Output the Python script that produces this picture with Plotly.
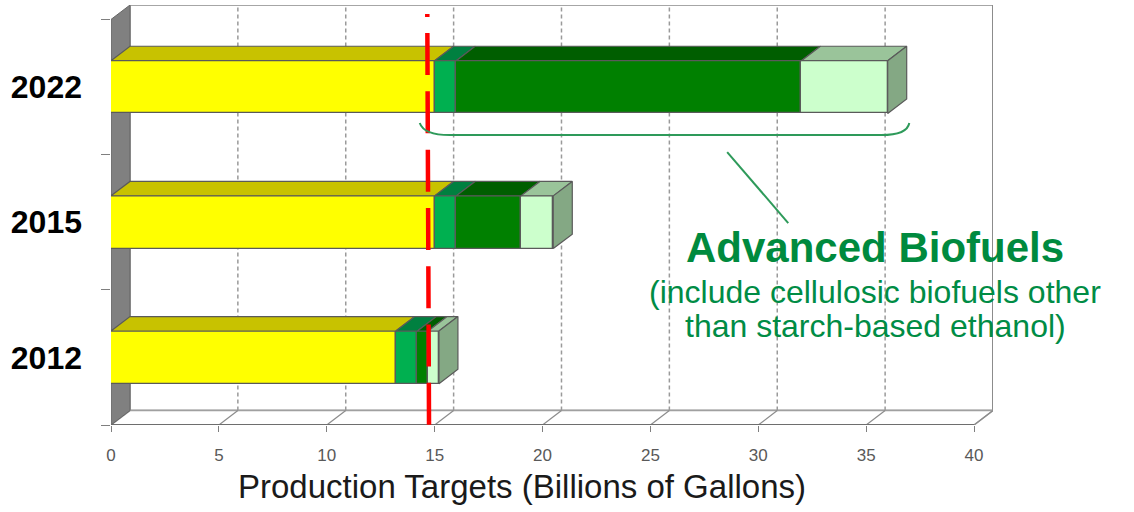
import plotly.graph_objects as go

# ---- data (billions of gallons) ----
years = ["2012", "2015", "2022"]
year_pos = [0.5, 1.5, 2.5]
conventional = [13.2, 15.0, 15.0]
biodiesel = [1.0, 1.0, 1.0]
cellulosic = [0.5, 3.0, 16.0]
other_advanced = [0.5, 1.5, 4.0]

x_ticks = [0, 5, 10, 15, 20, 25, 30, 35, 40]
limit_x = [14.66, 14.74]          # red dashed reference line (top, bottom)

segments = [
    # name, values, front colour, top colour, side colour
    ("Conventional ethanol", conventional, "#FFFF00", "#C8C200", "#A8A400"),
    ("Biomass-based diesel", biodiesel, "#00B050", "#008040", "#007030"),
    ("Cellulosic biofuels", cellulosic, "#008000", "#005E00", "#004C00"),
    ("Other advanced biofuels", other_advanced, "#CCFFCC", "#9AC49A", "#84A884"),
]

# ---- 3-D box geometry ----
X_MAX = 40
Y_MAX = 3
DEPTH_X = 0.88      # depth offset along x, in x units
DEPTH_Y = 0.107     # depth offset along y, in category units
BAR_W = 0.39
EDGE = "#5a5a5a"
GRID = "#9a9a9a"
FONT = "Liberation Sans, Arial, sans-serif"

fig = go.Figure()

# front faces of the stacked bars
bases = [0.0] * len(years)
for name, vals, c_front, c_top, c_side in segments:
    fig.add_trace(go.Bar(
        y=year_pos, x=vals, base=bases[:], orientation="h", width=BAR_W,
        name=name, marker=dict(color=c_front, line=dict(color=EDGE, width=1.3)),
        hoverinfo="skip", showlegend=False,
    ))
    bases = [b + v for b, v in zip(bases, vals)]

# top faces (and the right end face) of every bar segment
bases = [0.0] * len(years)
for k, (name, vals, c_front, c_top, c_side) in enumerate(segments):
    for i, yc in enumerate(year_pos):
        x0 = bases[i]
        x1 = x0 + vals[i]
        yt = yc + BAR_W / 2
        yb = yc - BAR_W / 2
        fig.add_trace(go.Scatter(
            x=[x0, x1, x1 + DEPTH_X, x0 + DEPTH_X, x0],
            y=[yt, yt, yt + DEPTH_Y, yt + DEPTH_Y, yt],
            mode="lines", fill="toself", fillcolor=c_top,
            line=dict(color=EDGE, width=1.2), hoverinfo="skip", showlegend=False,
        ))
        if k == len(segments) - 1:
            fig.add_trace(go.Scatter(
                x=[x1, x1 + DEPTH_X, x1 + DEPTH_X, x1, x1],
                y=[yt, yt + DEPTH_Y, yb + DEPTH_Y, yb, yt],
                mode="lines", fill="toself", fillcolor=c_side,
                line=dict(color=EDGE, width=1.2), hoverinfo="skip", showlegend=False,
            ))
    bases = [b + v for b, v in zip(bases, vals)]

shapes = []
# back wall
shapes.append(dict(type="rect", xref="x", yref="y", layer="below",
                   x0=DEPTH_X, x1=X_MAX + DEPTH_X, y0=DEPTH_Y, y1=Y_MAX + DEPTH_Y,
                   fillcolor="white", line=dict(color="#a6a6a6", width=2)))
# dashed gridlines on the back wall
for t in x_ticks[1:-1]:
    shapes.append(dict(type="line", xref="x", yref="y", layer="below",
                       x0=t + DEPTH_X, x1=t + DEPTH_X, y0=DEPTH_Y, y1=Y_MAX + DEPTH_Y,
                       line=dict(color=GRID, width=1.5, dash="4px,3px")))
shapes.append(dict(type="line", xref="x", yref="y", layer="below",
                   x0=X_MAX + DEPTH_X, x1=X_MAX + DEPTH_X, y0=DEPTH_Y, y1=Y_MAX + DEPTH_Y,
                   line=dict(color="#8c8c8c", width=2)))
# floor
shapes.append(dict(type="path", xref="x", yref="y", layer="below",
                   path=f"M 0 0 L {X_MAX} 0 L {X_MAX + DEPTH_X} {DEPTH_Y} L {DEPTH_X} {DEPTH_Y} Z",
                   fillcolor="white", line=dict(color="#a0a0a0", width=1.5)))
for t in x_ticks[1:]:
    shapes.append(dict(type="line", xref="x", yref="y", layer="below",
                       x0=t, x1=t + DEPTH_X, y0=0, y1=DEPTH_Y,
                       line=dict(color="#8c8c8c", width=1.2)))
shapes.append(dict(type="line", xref="x", yref="y", layer="below",
                   x0=0, x1=X_MAX, y0=0, y1=0, line=dict(color="#6e6e6e", width=2)))
# left wall
shapes.append(dict(type="path", xref="x", yref="y", layer="below",
                   path=f"M 0 0 L 0 {Y_MAX} L {DEPTH_X} {Y_MAX + DEPTH_Y} L {DEPTH_X} {DEPTH_Y} Z",
                   fillcolor="#808080", line=dict(color="#666666", width=1)))

# red dashed reference line
shapes.append(dict(type="line", xref="x", yref="y", layer="above",
                   x0=limit_x[0], x1=limit_x[1], y0=3.04, y1=0,
                   line=dict(color="#FF0000", width=4.5,
                             dash="3px,16px," + ",".join(["42px,16.3px"] * 8))))
# brace under the advanced-biofuel part of the 2022 bar
shapes.append(dict(type="path", xref="x", yref="y", layer="above",
                   path="M 14.31 2.234 Q 14.5 2.145 15.7 2.145 L 35.7 2.145 Q 36.9 2.145 37.0 2.234",
                   line=dict(color="#2E9A5A", width=2)))
# leader from the brace to the label
shapes.append(dict(type="line", xref="x", yref="y", layer="above",
                   x0=28.56, y0=2.019, x1=31.39, y1=1.494,
                   line=dict(color="#2E9A5A", width=2)))

annotations = [
    dict(x=35.42, y=1.31, xref="x", yref="y", text="<b>Advanced Biofuels</b>",
         showarrow=False, font=dict(family=FONT, size=42, color="#008A3E")),
    dict(x=35.42, y=0.985, xref="x", yref="y", text="(include cellulosic biofuels other",
         showarrow=False, font=dict(family=FONT, size=32, color="#008C45")),
    dict(x=35.42, y=0.73, xref="x", yref="y", text="than starch-based ethanol)",
         showarrow=False, font=dict(family=FONT, size=32, color="#008C45")),
    dict(x=(522 - 111) / 882, y=(425 - 487) / 420, xref="paper", yref="paper",
         xanchor="center", yanchor="middle",
         text="Production Targets (Billions of Gallons)", showarrow=False,
         font=dict(family=FONT, size=33, color="#1a1a1a")),
]

fig.update_layout(
    width=1134, height=512,
    margin=dict(l=111, r=141, t=5, b=87),
    paper_bgcolor="white", plot_bgcolor="white",
    barmode="overlay", bargap=0,
    shapes=shapes, annotations=annotations,
    showlegend=False,
    xaxis=dict(range=[0, X_MAX + DEPTH_X], tickvals=x_ticks, ticks="outside",
               ticklen=6, tickcolor="#7f7f7f", showgrid=False, zeroline=False,
               showline=False, ticklabelstandoff=9,
               tickfont=dict(family=FONT, size=17, color="#595959")),
    yaxis=dict(range=[0, Y_MAX + DEPTH_Y], tickvals=year_pos,
               ticktext=["<b>" + y + "</b>" for y in years],
               ticks="", showgrid=False, zeroline=False, showline=False,
               ticklabelstandoff=28,
               minor=dict(tickvals=[0, 1, 2, 3], ticks="outside", ticklen=9,
                          tickcolor="#7f7f7f", showgrid=False),
               tickfont=dict(family=FONT, size=32, color="#000000")),
)

fig.write_html("out.html")
